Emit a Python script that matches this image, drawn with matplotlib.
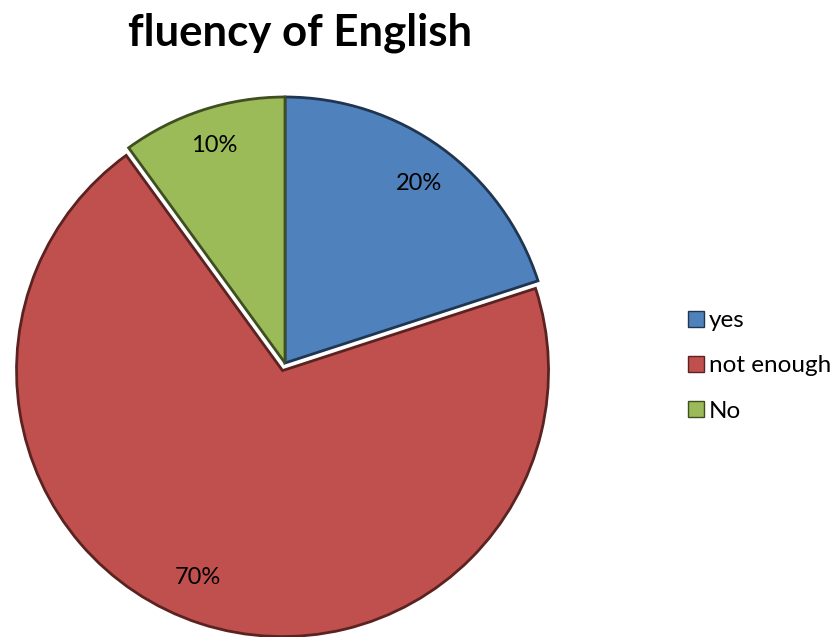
import matplotlib
matplotlib.use("Agg")
import matplotlib.pyplot as plt
import numpy as np
from matplotlib.patches import Patch

categories = ["yes", "not enough", "No"]
values = [20, 70, 10]
colors = ["#4F81BD", "#C0504D", "#9BBB59"]
edge_colors = ["#1f3550", "#5a2220", "#3f4f22"]
explode = [0, 0.03, 0]
title = "fluency of English"

plt.rcParams['font.family'] = ['Lato', 'DejaVu Sans']

fig = plt.figure(figsize=(8.4, 6.37), dpi=100)
W, H = 840, 637
cx, cy, r = 285, 363, 266
ax = fig.add_axes([(cx - r) / W, (H - cy - r) / H, 2 * r / W, 2 * r / H])

wedges, texts, autotexts = ax.pie(
    values, colors=colors, explode=explode, startangle=90, counterclock=False,
    autopct='%1.0f%%', pctdistance=0.86, radius=1,
    wedgeprops=dict(linewidth=2), textprops=dict(fontsize=17, color='black'))
for w, ec in zip(wedges, edge_colors):
    w.set_edgecolor(ec)
    w.set_clip_on(False)
ax.set_xlim(-1, 1)
ax.set_ylim(-1, 1)
ax.set_aspect('auto')
ax.axis('off')

# nudge the large slice label (Excel best-fit placement)
ang = np.deg2rad(-112)
autotexts[1].set_position((0.87 * np.cos(ang), 0.87 * np.sin(ang)))
autotexts[0].set_y(autotexts[0].get_position()[1] - 0.02)

fig.text(300 / W, 1 - 33 / H, title, ha='center', va='center',
         fontsize=31.5, fontweight='bold')

handles = [Patch(facecolor=c, edgecolor=ec, linewidth=1) for c, ec in zip(colors, edge_colors)]
fig.legend(handles, categories, loc='center left', bbox_to_anchor=(688 / W, 1 - 366 / H),
           frameon=False, fontsize=17.5, handlelength=0.65, handleheight=0.65,
           handletextpad=0.2, labelspacing=1.0, borderpad=0, borderaxespad=0)

fig.savefig("out.png", dpi=100)
